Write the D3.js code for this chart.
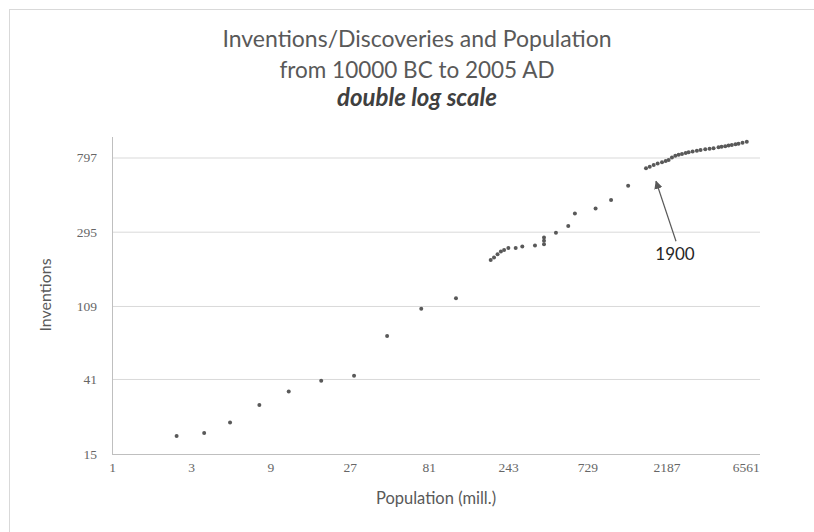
<!DOCTYPE html>
<html>
<head>
<meta charset="utf-8">
<script src="https://cdn.jsdelivr.net/npm/d3@7"></script>
<style>
  body { margin: 0; background: #fff; }
  svg { display: block; }
</style>
</head>
<body>
<script>
var width = 814;
var height = 532;

var margin = { top: 150, right: 54, bottom: 78, left: 112 };

// population (mill.) and cumulated inventions
var population = [2.45, 3.59, 5.14, 7.72, 11.6, 18.2, 28.7, 45.4, 72.9, 118,
    191, 200, 210, 220, 230, 244, 270, 296, 353, 400, 400, 400,
    472, 560, 614, 818, 1014, 1285,
    1646, 1734, 1832, 1935, 2055, 2163, 2253, 2359, 2472, 2588, 2711, 2853,
    2972, 3143, 3334, 3509, 3744, 3976, 4201, 4500, 4694, 4940, 5172, 5410,
    5693, 5937, 6279, 6660];
var inventions = [19.1, 19.9, 22.9, 28.9, 34.7, 40.0, 42.8, 73.0, 105, 121,
    202, 209, 218, 226, 231, 237, 237, 242, 245, 249, 261, 273,
    291, 318, 376, 402, 451, 545,
    690, 704, 721, 735, 748, 761, 771, 796, 816, 826, 835, 847,
    855, 864, 873, 882, 890, 896, 902, 914, 920, 926, 935, 943,
    951, 959, 972, 985];

var xTicks = [1, 3, 9, 27, 81, 243, 729, 2187, 6561];
var yTicks = [15, 41, 109, 295, 797];
var xMax = 8000;

var annotation = { label: '1900', index: 28 };

var svg = d3.select('body')
    .append('svg')
    .attr('width', width)
    .attr('height', height);

// chart frame
svg.append('rect')
    .attr('x', 9.5)
    .attr('y', 9.5)
    .attr('width', 900)
    .attr('height', 900)
    .attr('fill', 'none')
    .attr('stroke', '#d9d9d9');

var xScale = d3.scaleLog()
    .base(3)
    .domain([1, xMax])
    .range([margin.left, width - margin.right]);

var yScale = d3.scaleLog()
    .base(2.7)
    .domain([yTicks[0], yTicks[yTicks.length - 1]])
    .range([height - margin.bottom, 157.5]);

// title
var title = svg.append('g')
    .attr('font-family', 'Lato, sans-serif')
    .attr('text-anchor', 'middle');

title.append('text')
    .attr('x', 417)
    .attr('y', 47)
    .attr('font-size', 23)
    .attr('fill', '#595959')
    .text('Inventions/Discoveries and Population');

title.append('text')
    .attr('x', 417)
    .attr('y', 78)
    .attr('font-size', 22.5)
    .attr('fill', '#595959')
    .text('from 10000 BC to 2005 AD');

title.append('text')
    .attr('x', 417)
    .attr('y', 106)
    .attr('font-size', 24)
    .attr('font-weight', 'bold')
    .attr('font-style', 'italic')
    .attr('fill', '#404040')
    .text('double log scale');

// gridlines
svg.append('g')
    .selectAll('line')
    .data(yTicks.slice(1))
    .enter()
    .append('line')
    .attr('x1', margin.left)
    .attr('x2', width - margin.right)
    .attr('y1', function(d) { return yScale(d) + 0.5; })
    .attr('y2', function(d) { return yScale(d) + 0.5; })
    .attr('stroke', '#d9d9d9')
    .attr('stroke-width', 1);

var xAxis = d3.axisBottom(xScale)
    .tickValues(xTicks)
    .tickFormat(d3.format('d'))
    .tickSize(0)
    .tickPadding(8);

var yAxis = d3.axisLeft(yScale)
    .tickValues(yTicks)
    .tickFormat(d3.format('d'))
    .tickSize(0)
    .tickPadding(15);

var gx = svg.append('g')
    .attr('transform', 'translate(0,' + (height - margin.bottom) + ')')
    .call(xAxis);

var gy = svg.append('g')
    .attr('transform', 'translate(' + margin.left + ',0)')
    .call(yAxis);

gx.select('.domain').attr('stroke', '#bfbfbf').attr('d', 'M' + margin.left + ',0.5H' + (width - margin.right));
gy.select('.domain').attr('stroke', '#bfbfbf').attr('d', 'M0.5,' + (height - margin.bottom) + 'V' + 137);

svg.selectAll('.tick text')
    .attr('font-family', '"Liberation Serif", serif')
    .attr('font-size', 13.5)
    .attr('fill', '#666666');

// axis titles
svg.append('text')
    .attr('x', (margin.left + width - margin.right) / 2)
    .attr('y', 504)
    .attr('text-anchor', 'middle')
    .attr('font-family', 'Lato, sans-serif')
    .attr('font-size', 16.5)
    .attr('fill', '#595959')
    .text('Population (mill.)');

svg.append('text')
    .attr('transform', 'translate(51,295) rotate(-90)')
    .attr('text-anchor', 'middle')
    .attr('font-family', 'Lato, sans-serif')
    .attr('font-size', 16)
    .attr('fill', '#595959')
    .text('Inventions');

// points
var points = population.map(function(p, i) { return [p, inventions[i]]; });

svg.append('g')
    .selectAll('circle')
    .data(points)
    .enter()
    .append('circle')
    .attr('cx', function(d) { return xScale(d[0]); })
    .attr('cy', function(d) { return yScale(d[1]); })
    .attr('r', 2)
    .attr('fill', '#595959');

// 1900 annotation
var ap = points[annotation.index];
var tipX = xScale(ap[0]) + 10;
var tipY = yScale(ap[1]) + 13;
var tailX = tipX + 20;
var tailY = tipY + 60;

svg.append('defs')
    .append('marker')
    .attr('id', 'arrow')
    .attr('viewBox', '0 0 10 10')
    .attr('refX', 9)
    .attr('refY', 5)
    .attr('markerWidth', 7)
    .attr('markerHeight', 7)
    .attr('orient', 'auto')
    .append('path')
    .attr('d', 'M0,0L10,5L0,10z')
    .attr('fill', '#595959');

svg.append('line')
    .attr('x1', tailX)
    .attr('y1', tailY)
    .attr('x2', tipX)
    .attr('y2', tipY)
    .attr('stroke', '#595959')
    .attr('stroke-width', 1.2)
    .attr('marker-end', 'url(#arrow)');

svg.append('text')
    .attr('x', tailX - 1)
    .attr('y', tailY + 19)
    .attr('text-anchor', 'middle')
    .attr('font-family', 'Lato, sans-serif')
    .attr('font-size', 17)
    .attr('fill', '#262626')
    .text(annotation.label);
</script>
</body>
</html>
